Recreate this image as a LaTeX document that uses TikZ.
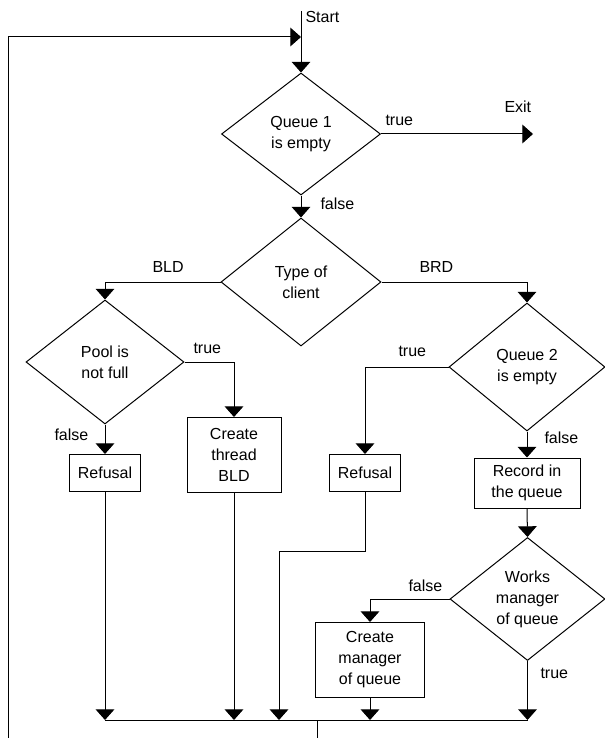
\documentclass[tikz,border=0pt]{standalone}
\usepackage{fontspec}
\setmainfont{Liberation Sans}
\usetikzlibrary{shapes.geometric,arrows.meta}

\begin{document}
\begin{tikzpicture}[x=0.75pt,y=-0.75pt,
  line width=0.75pt,
  every node/.style={font=\fontsize{12}{15.75}\selectfont},
  decision/.style={diamond, draw, inner sep=0pt, align=center},
  procbox/.style={rectangle, draw, inner sep=0pt, align=center},
  tip/.style={-{Triangle[width=14pt,length=8pt]}},
  lbl/.style={anchor=base west, inner sep=0pt}
]
\useasboundingbox (0,0) rectangle (605,738);

% decisions
\node[decision, minimum width=119.25pt, minimum height=91.5pt] (d1) at (301,134) {Queue 1\\is empty};
\node[decision, minimum width=120pt, minimum height=96pt] (d2) at (301,282) {Type of\\client};
\node[decision, minimum width=118.5pt, minimum height=93pt] (d3) at (105,362) {Pool is\\not full};
\node[decision, minimum width=117pt, minimum height=96pt] (d4) at (527,367) {Queue 2\\is empty};
\node[decision, minimum width=116.25pt, minimum height=92.25pt] (d5) at (527.5,599) {Works\\manager\\of queue};

% process boxes
\node[procbox, minimum width=53.25pt, minimum height=27.75pt] (r1) at (105,473) {Refusal};
\node[procbox, minimum width=70.5pt, minimum height=56.25pt] (c1) at (234,455) {Create\\thread\\BLD};
\node[procbox, minimum width=53.25pt, minimum height=27.75pt] (r2) at (365,473) {Refusal};
\node[procbox, minimum width=79.5pt, minimum height=37.5pt] (rec) at (527,483) {Record in\\the queue};
\node[procbox, minimum width=81.75pt, minimum height=56.25pt] (cm) at (370,660) {Create\\manager\\of queue};

% free ends and bends
\coordinate (s0) at (301,11);
\coordinate (jn) at (301,37);
\coordinate (lp) at (8,738);
\coordinate (ex) at (533,134);
\coordinate (busL) at (105,720);
\coordinate (busR) at (527.5,720);
\coordinate (bend) at (365,551);
\coordinate (side) at (279,720);
\coordinate (bstem) at (317,720);
\coordinate (outb) at (317,738);

% connectors
\draw[tip] (s0) -- (d1.north);
\draw[tip] (lp) |- (jn);
\draw[tip] (d1.east) -- (ex);
\draw[tip] (d1.south) -- (d2.north);
\draw[tip] (d2.west) -| (d3.north);
\draw[tip] (d2.east) -| (d4.north);
\draw[tip] (d3.east) -| (c1.north);
\draw[tip] (d3.south) -- (r1.north);
\draw[tip] (d4.west) -| (r2.north);
\draw[tip] (d4.south) -- (rec.north);
\draw[tip] (rec.south) -- (d5.north);
\draw[tip] (d5.west) -| (cm.north);

\draw (busL) -- (busR);
\draw (bstem) -- (outb);
\draw[tip] (r1.south) -- (r1.south |- busL);
\draw[tip] (c1.south) -- (c1.south |- busL);
\draw[tip] (r2.south) -- (bend) -| (side);
\draw[tip] (cm.south) -- (cm.south |- busL);
\draw[tip] (d5.south) -- (d5.south |- busL);

% labels
\node[lbl] (lstart) at (305,23) {Start};
\node[lbl] (lexit) at (504,113) {Exit};
\node[lbl] (lt1) at (385,126) {true};
\node[lbl] (lf1) at (320,209) {false};
\node[lbl] (lbld) at (152,272) {BLD};
\node[lbl] (lbrd) at (419,272) {BRD};
\node[lbl] (lt3) at (193,353) {true};
\node[lbl] (lt4) at (398,356) {true};
\node[lbl] (lf3) at (54,440) {false};
\node[lbl] (lf4) at (544,443) {false};
\node[lbl] (lf5) at (408,591) {false};
\node[lbl] (lt5) at (540,678) {true};
\end{tikzpicture}
\end{document}
